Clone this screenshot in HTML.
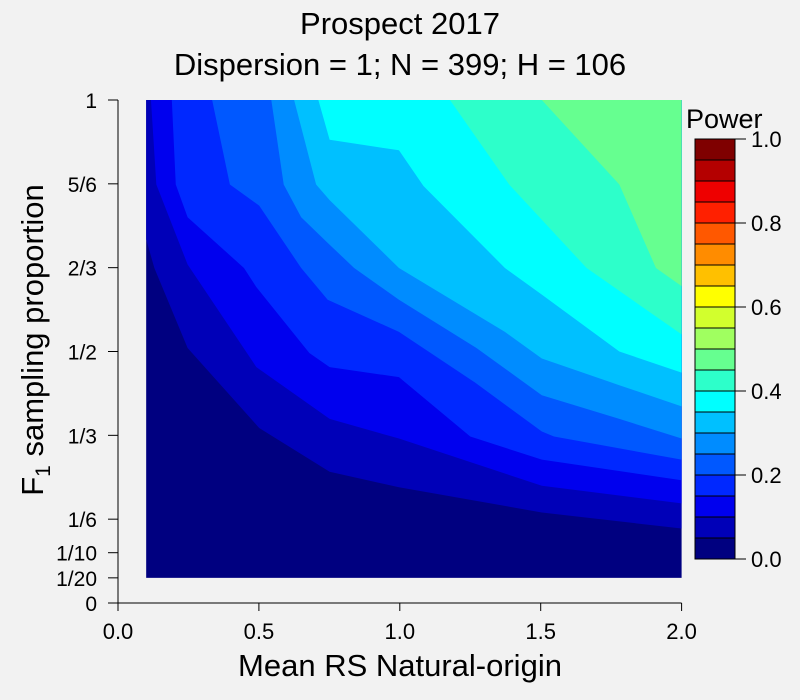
<!DOCTYPE html>
<html><head><meta charset="utf-8"><style>
body{margin:0;background:#f2f2f2;}
svg{display:block;font-family:"Liberation Sans",Arial,sans-serif;}
</style></head><body>
<svg id="chart" width="800" height="700">
<rect width="800" height="700" fill="#f2f2f2"/>
<text x="400" y="34" font-size="31" text-anchor="middle">Prospect 2017</text>
<text x="400" y="75" font-size="31" text-anchor="middle">Dispersion = 1; N = 399; H = 106</text>
<g id="plot"></g>
<g id="axes"></g>
<g id="legend"></g>
<text x="400" y="676" font-size="31" text-anchor="middle">Mean RS Natural-origin</text>
<text transform="translate(43,340) rotate(-90)" font-size="31" text-anchor="middle">F<tspan font-size="21" dy="7">1</tspan><tspan dy="-7"> sampling proportion</tspan></text>
</svg>
<script>
const levels=[0.05,0.1,0.15,0.2,0.25,0.3,0.35,0.4,0.45];
const levelColors=["#0000B8","#0000EE","#0028FF","#0058FF","#008CFF","#00C0FF","#00FFFF","#2DFFCA","#66FF90"];
const baseColor="#000080";
const bx05=[0.1,0.129,0.247,0.501,0.751,0.997,1.504,2.0];
const by05=[0.723,0.666,0.507,0.348,0.261,0.230,0.180,0.148];
const bx10=[0.117,0.136,0.247,0.491,0.751,0.997,1.504,2.0];
const by10=[1.0,0.832,0.673,0.469,0.366,0.327,0.233,0.198];
const bx15=[0.191,0.205,0.247,0.447,0.491,0.679,0.751,0.997,1.250,1.504,2.0];
const by15=[1.0,0.832,0.767,0.666,0.628,0.497,0.469,0.449,0.331,0.285,0.244];
const bx20=[0.334,0.397,0.501,0.650,0.744,0.997,1.265,1.504,1.547,2.0];
const by20=[1.0,0.832,0.790,0.666,0.603,0.539,0.439,0.341,0.331,0.285];
const bx25=[0.544,0.588,0.650,0.744,0.838,0.997,1.272,1.504,1.779,2.0];
const by25=[1.0,0.832,0.767,0.716,0.666,0.603,0.507,0.413,0.366,0.327];
const bx30=[0.625,0.703,0.751,0.997,1.373,1.504,1.779,2.0];
const by30=[1.0,0.832,0.801,0.666,0.539,0.486,0.433,0.391];
const bx35=[0.711,0.751,0.997,1.084,1.373,1.504,1.779,2.0];
const by35=[1.0,0.921,0.900,0.829,0.666,0.613,0.500,0.458];
const bx40=[1.178,1.388,1.504,1.663,2.0];
const by40=[1.0,0.832,0.762,0.666,0.534];
const bx45=[1.504,1.779,1.909,2.0];
const by45=[1.0,0.832,0.666,0.630];
const boundX=[bx05,bx10,bx15,bx20,bx25,bx30,bx35,bx40,bx45];
const boundY=[by05,by10,by15,by20,by25,by30,by35,by40,by45];
const xTicks=[0,0.5,1,1.5,2];
const xTickLabels=["0.0","0.5","1.0","1.5","2.0"];
const yTicks=[0,0.05,0.1,1/6,1/3,1/2,2/3,5/6,1];
const yTickLabels=["0","1/20","1/10","1/6","1/3","1/2","2/3","5/6","1"];
const legendBreaks=[0,0.05,0.1,0.15,0.2,0.25,0.3,0.35,0.4,0.45,0.5,0.55,0.6,0.65,0.7,0.75,0.8,0.85,0.9,0.95,1.0];
const legendColors=["#000080","#0000B8","#0000EE","#0028FF","#0058FF","#008CFF","#00C0FF","#00FFFF","#2DFFCA","#66FF90","#A0FF60","#D2FF2D","#FFFF00","#FFC000","#FF8C00","#FF5800","#FF2000","#EE0000","#B40000","#7F0000"];
const legendTicks=[0,0.2,0.4,0.6,0.8,1.0];
const legendTickLabels=["0.0","0.2","0.4","0.6","0.8","1.0"];
const xMin=0.1,xMax=2.0,yMin=0.05,yMax=1.0;

const NS="http://www.w3.org/2000/svg";
const sx=v=>118+v*281.8;
const sy=v=>603-v*503;
const ly=v=>559-v*420;
function mk(tag,attrs,parent){const e=document.createElementNS(NS,tag);for(const k in attrs)e.setAttribute(k,attrs[k]);parent.appendChild(e);return e;}
const plot=document.getElementById('plot'),axes=document.getElementById('axes'),legend=document.getElementById('legend');

const base=mk('rect',{x:sx(xMin),y:sy(yMax),width:sx(xMax)-sx(xMin),height:sy(yMin)-sy(yMax),fill:baseColor},plot);


boundX.forEach((xs,i)=>{
  const ys=boundY[i];
  let pts=xs.map((x,j)=>sx(x)+','+sy(ys[j]));
  pts.push(sx(xMax)+','+sy(yMax));
  if(xs[0]<=xMin) pts.push(sx(xMin)+','+sy(yMax));
  const p=mk('polygon',{points:pts.join(' '),fill:levelColors[i]},plot);
  
  
});

mk('line',{x1:sx(0),y1:sy(0),x2:sx(2),y2:sy(0),stroke:'#000','stroke-width':1},axes);
mk('line',{x1:sx(0),y1:sy(0),x2:sx(0),y2:sy(1),stroke:'#000','stroke-width':1},axes);
xTicks.forEach((v,i)=>{
  mk('line',{x1:sx(v),y1:sy(0),x2:sx(v),y2:sy(0)+8,stroke:'#000'},axes);
  const t=mk('text',{x:sx(v),y:639,'font-size':22,'text-anchor':'middle'},axes);
  t.textContent=xTickLabels[i];
  
  
});
yTicks.forEach((v,i)=>{
  mk('line',{x1:sx(0),y1:sy(v),x2:sx(0)-10,y2:sy(v),stroke:'#000'},axes);
  const t=mk('text',{x:97,y:sy(v)+8,'font-size':21,'text-anchor':'end'},axes);
  t.textContent=yTickLabels[i];
  
  
});

const pt=mk('text',{x:686,y:128,'font-size':27},legend);
pt.textContent='Power';


legendColors.forEach((c,i)=>{
  const r=mk('rect',{x:695,y:ly(legendBreaks[i+1]),width:40,height:ly(legendBreaks[i])-ly(legendBreaks[i+1]),fill:c,stroke:'#000','stroke-width':1},legend);
  
  
});
legendTicks.forEach((v,i)=>{
  mk('line',{x1:735,y1:ly(v),x2:746,y2:ly(v),stroke:'#000'},legend);
  const t=mk('text',{x:751,y:ly(v)+8,'font-size':22},legend);
  t.textContent=legendTickLabels[i];
  
  
});
</script>
</body></html>
